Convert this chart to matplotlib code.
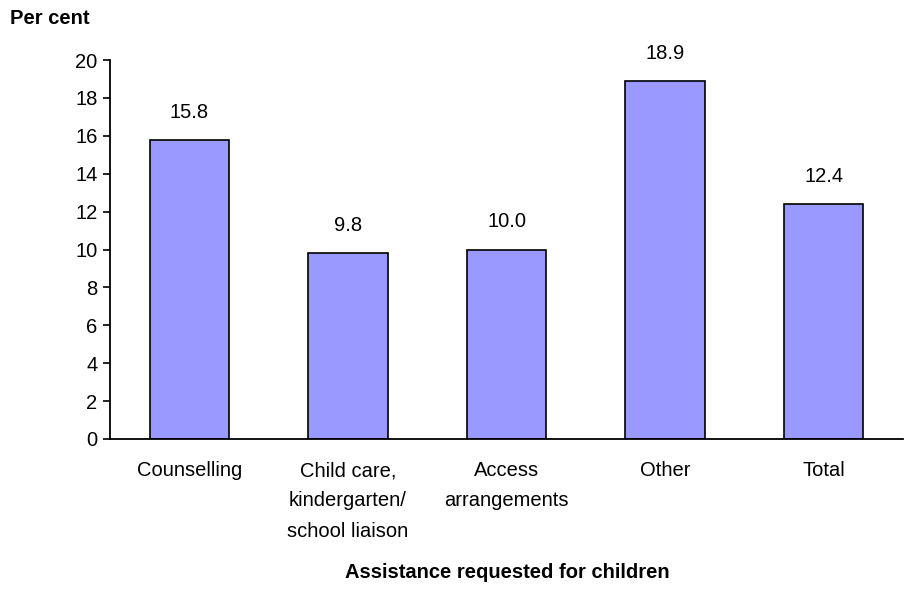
import matplotlib
matplotlib.use("Agg")
import matplotlib.pyplot as plt

categories = ["Counselling", "Child care,\nkindergarten/\nschool liaison",
              "Access\narrangements", "Other", "Total"]
values = [15.8, 9.8, 10.0, 18.9, 12.4]
yticks = [0, 2, 4, 6, 8, 10, 12, 14, 16, 18, 20]

plt.rcParams["font.family"] = ["Liberation Sans", "DejaVu Sans"]
FS = 14.5

fig = plt.figure(figsize=(9.07, 5.89), dpi=100)
ax = fig.add_axes([0.1213, 0.2547, 0.8743, 0.6434])

x = range(len(categories))
ax.bar(x, values, width=0.5, color="#9999ff", edgecolor="black", linewidth=1.2)
for xi, v in zip(x, values):
    ax.annotate("{:.1f}".format(v), (xi, v), xytext=(0, 13), textcoords="offset points",
                ha="center", va="bottom", fontsize=FS)

ax.set_xlim(-0.5, len(categories) - 0.5)
ax.set_ylim(0, 20)
ax.set_yticks(yticks)
ax.set_xticks(list(x))
ax.set_xticklabels(categories, fontsize=FS, linespacing=1.75, va="top")
ax.tick_params(axis="x", length=0, pad=16)
ax.tick_params(axis="y", labelsize=FS, length=5, width=1.2, pad=4)
for s in ("top", "right"):
    ax.spines[s].set_visible(False)
for s in ("left", "bottom"):
    ax.spines[s].set_linewidth(1.3)

fig.text(0.011, 0.969, "Per cent", fontsize=FS, fontweight="bold", ha="left", va="center")
fig.text(0.559, 0.028, "Assistance requested for children", fontsize=FS,
         fontweight="bold", ha="center", va="center")

fig.savefig("out.png", dpi=100)
